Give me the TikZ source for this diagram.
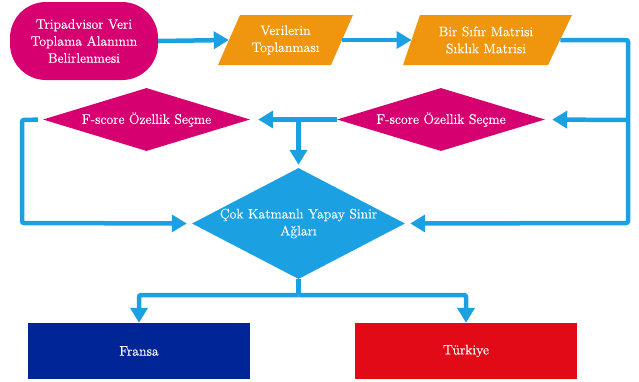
\documentclass[tikz,border=0pt]{standalone}
\usepackage{fontspec}
\setmainfont{Latin Modern Roman}[FakeBold=0.35]
\usetikzlibrary{shapes.geometric,arrows.meta}
\definecolor{cmag}{RGB}{214,0,113}
\definecolor{corange}{RGB}{240,150,14}
\definecolor{cblue}{RGB}{27,161,226}
\definecolor{cnavy}{RGB}{0,37,150}
\definecolor{cred}{RGB}{226,10,22}
\tikzset{
  lbl/.style={text=white,font=\fontsize{13.8}{17}\selectfont,align=center,inner sep=0pt},
  conn/.style={draw=cblue,line width=4.5pt,rounded corners=2pt,
    -{Triangle[length=15pt,width=17pt]}},
  plain/.style={draw=cblue,line width=4.5pt,rounded corners=2pt},
  dia/.style={shape=diamond,inner sep=0pt},
  box/.style={rectangle,lbl,minimum width=222pt,minimum height=56pt},
}
\begin{document}
\begin{tikzpicture}[x=1pt,y=-1pt]
\useasboundingbox (0,0) rectangle (639,381);
% start
\node[lbl,fill=cmag,rounded corners=36pt,minimum width=148pt,minimum height=78pt] (start) at (84,41)
  {Tripadvisor Veri\\Toplama Alanının\\Belirlenmesi};
% parallelograms
\fill[corange] (218,65) -- (240,15) -- (353,15) -- (331,65) -- cycle;
\node[lbl,minimum width=113pt,minimum height=50pt] (p1) at (285.5,40) {Verilerin\\Toplanması};
\fill[corange] (403,65) -- (420,15) -- (572,15) -- (548,65) -- cycle;
\node[lbl,minimum width=148.5pt,minimum height=50pt] (p2) at (486,40) {Bir Sıfır Matrisi\\Sıklık Matrisi};
% diamonds
\node[dia,fill=cmag,minimum width=208pt,minimum height=63pt] (fr) at (441,119.5) {};
\node[lbl] (frt) at (fr.center) {F-score Özellik Seçme};
\node[dia,fill=cmag,minimum width=207pt,minimum height=63pt] (fl) at (146.5,119.5) {};
\node[lbl] (flt) at (fl.center) {F-score Özellik Seçme};
\node[dia,fill=cblue,minimum width=213pt,minimum height=111pt] (nn) at (298.5,223.5) {};
\node[lbl] (nnt) at (nn.center) {Çok Katmanlı Yapay Sinir\\Ağları};
% result boxes
\node[box,fill=cnavy] (fra) at (139,351) {Fransa};
\node[box,fill=cred] (tur) at (466,351) {Türkiye};
% connectors
\coordinate (rr) at (628,120);
\coordinate (lm) at (nn.north |- fl.east);
\draw[conn] (start.east) -- (p1.west);
\draw[conn] (p1.east) -- (p2.west);
\draw[conn,shorten >=5pt] (p2.east) -| (628,223) -- (nn.east);
\draw[conn,shorten >=7pt] (rr) -- (fr.east);
\draw[conn,shorten >=8pt] (fr.west) -- (fl.east);
\draw[conn,shorten >=3pt] (lm) -- (nn.north);
\draw[conn,shorten <=5pt,shorten >=5pt] (fl.west) -- (22,120) -- (22,223) -- (nn.west);
\coordinate (split) at (298.5,295);
\draw[plain] (nn.south) -- (split);
\draw[conn] (split) -| (fra.north);
\draw[conn] (split) -| (tur.north);
\end{tikzpicture}
\end{document}
